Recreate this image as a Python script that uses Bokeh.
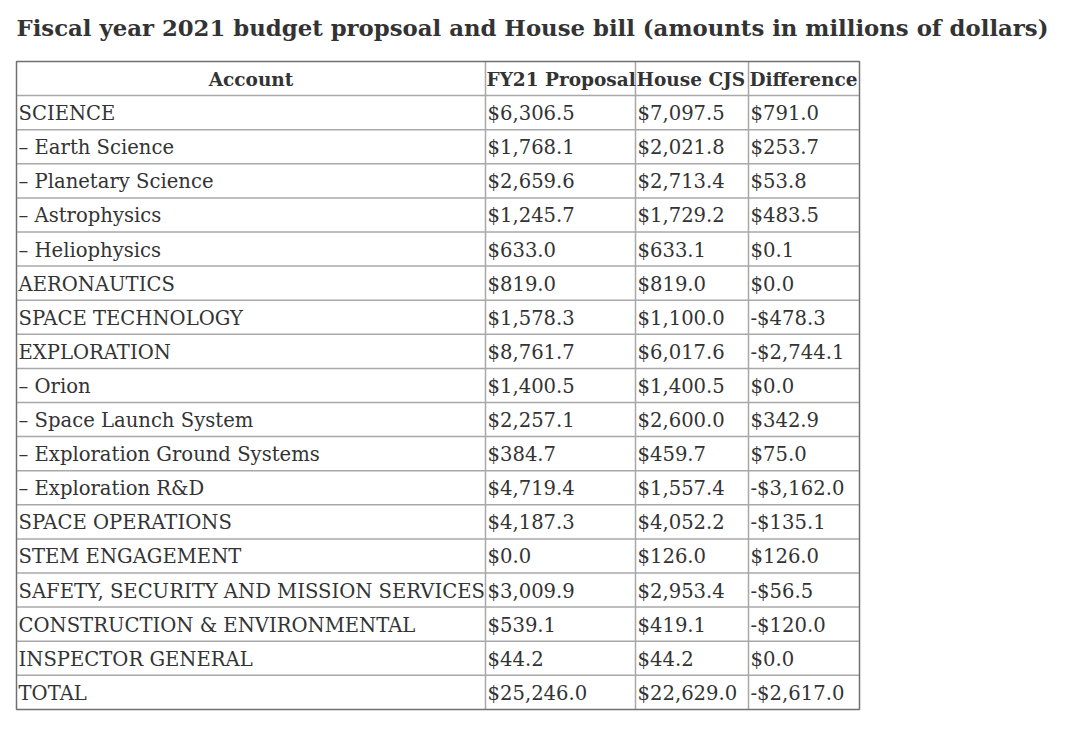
from bokeh.plotting import figure
from bokeh.models import Range1d, ColumnDataSource
from bokeh.core.properties import value
from bokeh.embed import file_html
from bokeh.resources import INLINE

title = "Fiscal year 2021 budget propsoal and House bill (amounts in millions of dollars)"
headers = ["Account", "FY21 Proposal", "House CJS", "Difference"]
accounts = ["SCIENCE", "\u2013 Earth Science", "\u2013 Planetary Science", "\u2013 Astrophysics",
            "\u2013 Heliophysics", "AERONAUTICS", "SPACE TECHNOLOGY", "EXPLORATION",
            "\u2013 Orion", "\u2013 Space Launch System", "\u2013 Exploration Ground Systems",
            "\u2013 Exploration R&D", "SPACE OPERATIONS", "STEM ENGAGEMENT",
            "SAFETY, SECURITY AND MISSION SERVICES", "CONSTRUCTION & ENVIRONMENTAL",
            "INSPECTOR GENERAL", "TOTAL"]
proposal = [6306.5, 1768.1, 2659.6, 1245.7, 633.0, 819.0, 1578.3, 8761.7, 1400.5, 2257.1,
            384.7, 4719.4, 4187.3, 0.0, 3009.9, 539.1, 44.2, 25246.0]
house = [7097.5, 2021.8, 2713.4, 1729.2, 633.1, 819.0, 1100.0, 6017.6, 1400.5, 2600.0,
         459.7, 1557.4, 4052.2, 126.0, 2953.4, 419.1, 44.2, 22629.0]
difference = [791.0, 253.7, 53.8, 483.5, 0.1, 0.0, -478.3, -2744.1, 0.0, 342.9,
              75.0, -3162.0, -135.1, 126.0, -56.5, -120.0, 0.0, -2617.0]

def money(v):
    s = "${:,.1f}".format(abs(v))
    return "-" + s if v < 0 else s

W, H = 1064, 731
FONT = "DejaVu Serif"
TXT = "#333333"

# layout (canvas pixels)
col_edges = [16, 485, 635, 748, 859]
top, row_h = 61, 34.1
n_rows = len(accounts) + 1
row_edges = [top + i * row_h for i in range(n_rows + 1)]

p = figure(width=W, height=H, x_range=Range1d(0, W), y_range=Range1d(H, 0),
           output_backend="svg", toolbar_location=None, min_border=0,
           outline_line_color=None)
p.axis.visible = False
p.grid.visible = False
p.background_fill_color = "white"

# title
p.text(x=[16], y=[27], text=[title], text_font=value(FONT), text_font_style="bold",
       text_font_size="22.8px", text_color=TXT, text_baseline="middle", text_align="left")

# grid lines
inner_h = row_edges[1:-1]
p.segment(x0=[col_edges[0]] * len(inner_h), x1=[col_edges[-1]] * len(inner_h),
          y0=inner_h, y1=inner_h, line_color="#a8a8a8", line_width=1.5)
inner_v = col_edges[1:-1]
p.segment(x0=inner_v, x1=inner_v, y0=[row_edges[0]] * len(inner_v),
          y1=[row_edges[-1]] * len(inner_v), line_color="#a8a8a8", line_width=1.5)
p.quad(left=[col_edges[0]], right=[col_edges[-1]], top=[row_edges[0]], bottom=[row_edges[-1]],
       fill_color=None, line_color="#707070", line_width=1.5)

# header
hx = [(col_edges[0] + col_edges[1]) / 2] + [col_edges[i] + 1 for i in range(1, 4)]
halign = ["center", "left", "left", "left"]
hy = [top + row_h / 2 + 1] * 4
p.text(x=hx, y=hy, text=headers, text_align=halign, text_font=value(FONT),
       text_font_style="bold", text_font_size="18.5px", text_color=TXT, text_baseline="middle")

# body
xs, ys, ts = [], [], []
for i, (a, pr, ho, di) in enumerate(zip(accounts, proposal, house, difference)):
    yc = top + (i + 1) * row_h + row_h / 2 + 1
    for j, t in enumerate([a, money(pr), money(ho), money(di)]):
        xs.append(col_edges[j] + 2)
        ys.append(yc)
        ts.append(t)
src = ColumnDataSource(dict(x=xs, y=ys, t=ts))
p.text(x="x", y="y", text="t", source=src, text_font=value(FONT), text_font_size="19.6px",
       text_color=TXT, text_baseline="middle", text_align="left")

open("out.html", "w").write(file_html(p, INLINE))
